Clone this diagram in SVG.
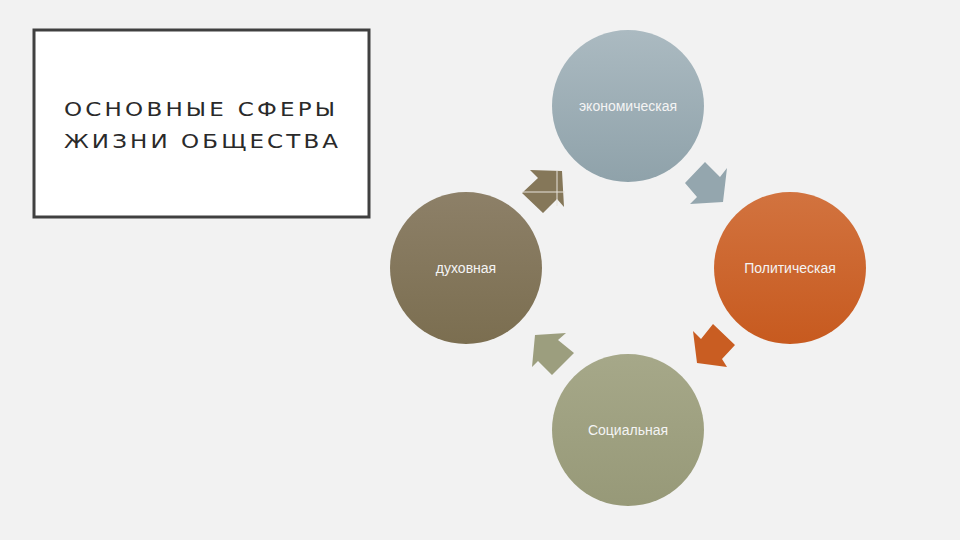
<svg xmlns="http://www.w3.org/2000/svg" width="960" height="540" viewBox="0 0 960 540">
<defs>
<linearGradient id="gEco" x1="0" y1="0" x2="0" y2="1"><stop offset="0" stop-color="#abbac1"/><stop offset="1" stop-color="#8fa2aa"/></linearGradient>
<linearGradient id="gPol" x1="0" y1="0" x2="0" y2="1"><stop offset="0" stop-color="#d2733f"/><stop offset="1" stop-color="#c75a1f"/></linearGradient>
<linearGradient id="gSoc" x1="0" y1="0" x2="0" y2="1"><stop offset="0" stop-color="#a6a889"/><stop offset="1" stop-color="#979978"/></linearGradient>
<linearGradient id="gSpi" x1="0" y1="0" x2="0" y2="1"><stop offset="0" stop-color="#8d8068"/><stop offset="1" stop-color="#7b6e50"/></linearGradient>
<style>
.lbl{font-family:"Liberation Sans",Arial,sans-serif;font-size:14px;fill:#f4f4f4;text-anchor:middle;dominant-baseline:central}
.title{font-family:"DejaVu Sans",sans-serif;font-size:20px;fill:#2a2a2a}
</style>
</defs>
<rect width="960" height="540" fill="#f2f2f2"/>
<g id="title">
<rect x="34" y="30" width="335" height="187" fill="#ffffff" stroke="#404040" stroke-width="3"/>
<g transform="translate(64,0) scale(1.15,1)">
<text class="title" x="0" y="116" textLength="235.7" lengthAdjust="spacing">ОСНОВНЫЕ СФЕРЫ</text>
<text class="title" x="0" y="148" textLength="238.3" lengthAdjust="spacing">ЖИЗНИ ОБЩЕСТВА</text>
</g>
</g>
<g id="connectors">
<polygon points="562,171 530,170 538,178 522,193 543,213 557,199 564,207" fill="#857759"/>
<line x1="522" y1="192" x2="565" y2="192" stroke="#e8e4dc" stroke-width="1"/>
<line x1="557" y1="170" x2="557" y2="206" stroke="#e8e4dc" stroke-width="1"/>
<polygon points="705,162 720,177 727,168 723,202 690,204 697,197 685,183" fill="#94a6ae"/>
<polygon points="713,324 735,345 722,359 727,367 697,363 693,331 701,339" fill="#c95d22"/>
<polygon points="535,335 566,333 558,340 574,353 552,375 538,361 532,367" fill="#9c9e7e"/>
</g>
<g id="economic">
<circle cx="628" cy="106" r="76" fill="url(#gEco)"/>
<text class="lbl" x="628" y="106">экономическая</text>
</g>
<g id="political">
<circle cx="790" cy="268" r="76" fill="url(#gPol)"/>
<text class="lbl" x="790" y="268">Политическая</text>
</g>
<g id="social">
<circle cx="628" cy="430" r="76" fill="url(#gSoc)"/>
<text class="lbl" x="628" y="430">Социальная</text>
</g>
<g id="spiritual">
<circle cx="466" cy="268" r="76" fill="url(#gSpi)"/>
<text class="lbl" x="466" y="268">духовная</text>
</g>
</svg>
